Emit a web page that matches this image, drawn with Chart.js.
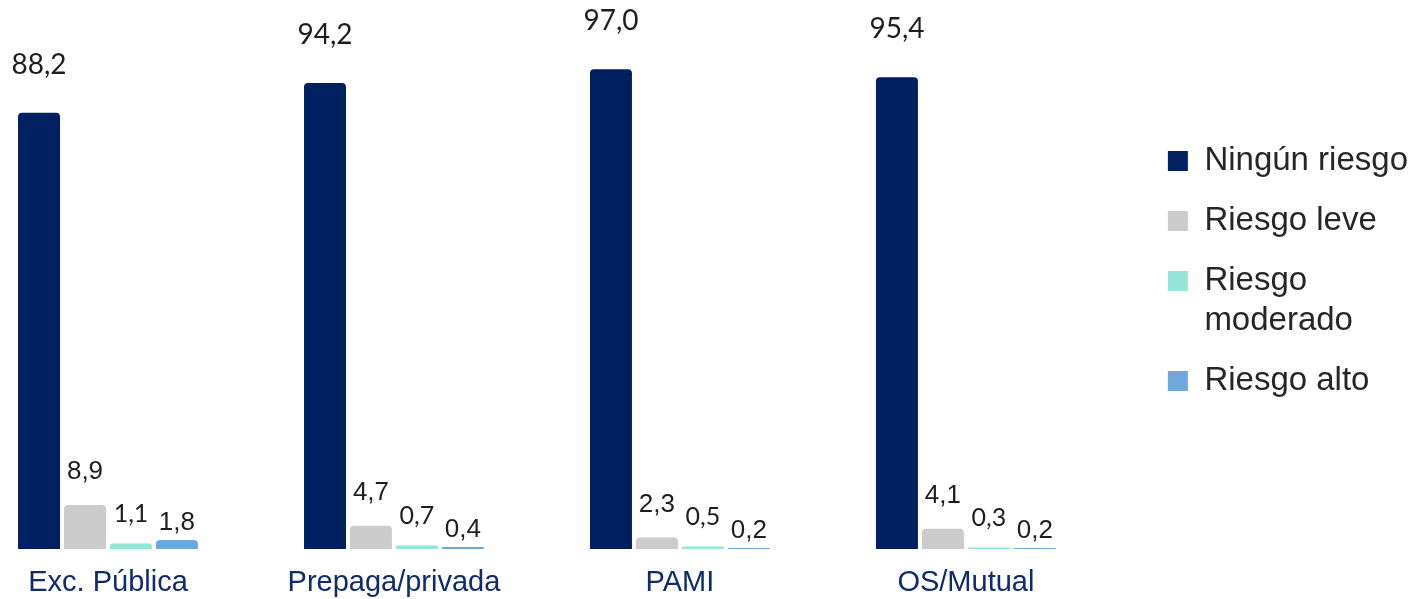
<!DOCTYPE html>
<html>
<head>
<meta charset="utf-8">
<script src="https://cdn.jsdelivr.net/npm/chart.js@4.4.1/dist/chart.umd.min.js"></script>
<style>
  html, body { margin: 0; padding: 0; background: #ffffff; }
  #frame { position: relative; width: 1426px; height: 599px; overflow: hidden; }
  #chart { position: absolute; left: -35px; top: 0; }
</style>
</head>
<body>
<div id="frame"><canvas id="chart" width="1453" height="599"></canvas></div>
<script>
const CATEGORIES = ['Exc. Pública', 'Prepaga/privada', 'PAMI', 'OS/Mutual'];
const SERIES_NAMES = ['Ningún riesgo', 'Riesgo leve', 'Riesgo moderado', 'Riesgo alto'];
const LEGEND_LINES = [['Ningún riesgo'], ['Riesgo leve'], ['Riesgo', 'moderado'], ['Riesgo alto']];
const NINGUN = [88.2, 94.2, 97.0, 95.4];
const LEVE = [8.9, 4.7, 2.3, 4.1];
const MODERADO = [1.1, 0.7, 0.5, 0.3];
const ALTO = [1.8, 0.4, 0.2, 0.2];

const COLORS = {
  bars: ['#002060', '#cccccc', '#93e6d8', '#6fa8dc'],
  axisText: '#0f2b6b',
  text: '#1e1e1e'
};

// one style per series: the value labels are not uniform in the original
const LABEL_STYLES = [
  { font: '28px Lato, "Open Sans", sans-serif', offset: 48 },
  { font: '26px "Liberation Sans", Arial, sans-serif', offset: 33 },
  { font: '25px Lato, "Open Sans", sans-serif', offset: 30 },
  { font: '26px "Liberation Sans", Arial, sans-serif', offset: 17 }
];

function formatValue(value) {
  return value.toFixed(1).replace('.', ',');
}

const valueLabels = {
  id: 'valueLabels',
  afterDatasetsDraw(chart) {
    const ctx = chart.ctx;
    chart.data.datasets.forEach((dataset, datasetIndex) => {
      const meta = chart.getDatasetMeta(datasetIndex);
      const style = LABEL_STYLES[datasetIndex];
      ctx.save();
      ctx.font = style.font;
      ctx.fillStyle = COLORS.text;
      ctx.textAlign = 'center';
      ctx.textBaseline = 'middle';
      meta.data.forEach((bar, index) => {
        ctx.fillText(formatValue(dataset.data[index]), bar.x, bar.y - style.offset);
      });
      ctx.restore();
    });
  }
};

const seriesValues = [NINGUN, LEVE, MODERADO, ALTO];

new Chart(document.getElementById('chart').getContext('2d'), {
  type: 'bar',
  data: {
    labels: CATEGORIES,
    datasets: seriesValues.map((values, index) => ({
      label: SERIES_NAMES[index],
      data: values,
      backgroundColor: COLORS.bars[index],
      borderWidth: 0,
      borderRadius: 4,
      categoryPercentage: 0.643,
      barPercentage: 0.913
    }))
  },
  options: {
    responsive: false,
    animation: false,
    devicePixelRatio: 1,
    layout: { padding: 0 },
    plugins: {
      tooltip: { enabled: false },
      legend: {
        position: 'right',
        fullSize: false,
        labels: {
          color: '#262626',
          boxWidth: 20,
          boxHeight: 20,
          padding: 20,
          font: { size: 33, family: '"Liberation Sans", Arial, sans-serif', lineHeight: 1.212 },
          generateLabels(chart) {
            const items = Chart.defaults.plugins.legend.labels.generateLabels(chart);
            return items.map((item, index) => ({ ...item, text: LEGEND_LINES[index] }));
          }
        }
      }
    },
    scales: {
      x: {
        grid: { display: false, drawTicks: false },
        border: { display: false },
        ticks: {
          color: COLORS.axisText,
          padding: 17,
          font: { size: 29, family: '"Liberation Sans", Arial, sans-serif' }
        },
        afterFit(scale) {
          scale.height = 50;
        }
      },
      y: {
        position: 'right',
        min: 0,
        max: 111,
        grid: { display: false, drawTicks: false },
        border: { display: false },
        ticks: { display: false },
        afterFit(scale) {
          scale.width = 39;
        }
      }
    }
  },
  plugins: [valueLabels]
});
</script>
</body>
</html>
